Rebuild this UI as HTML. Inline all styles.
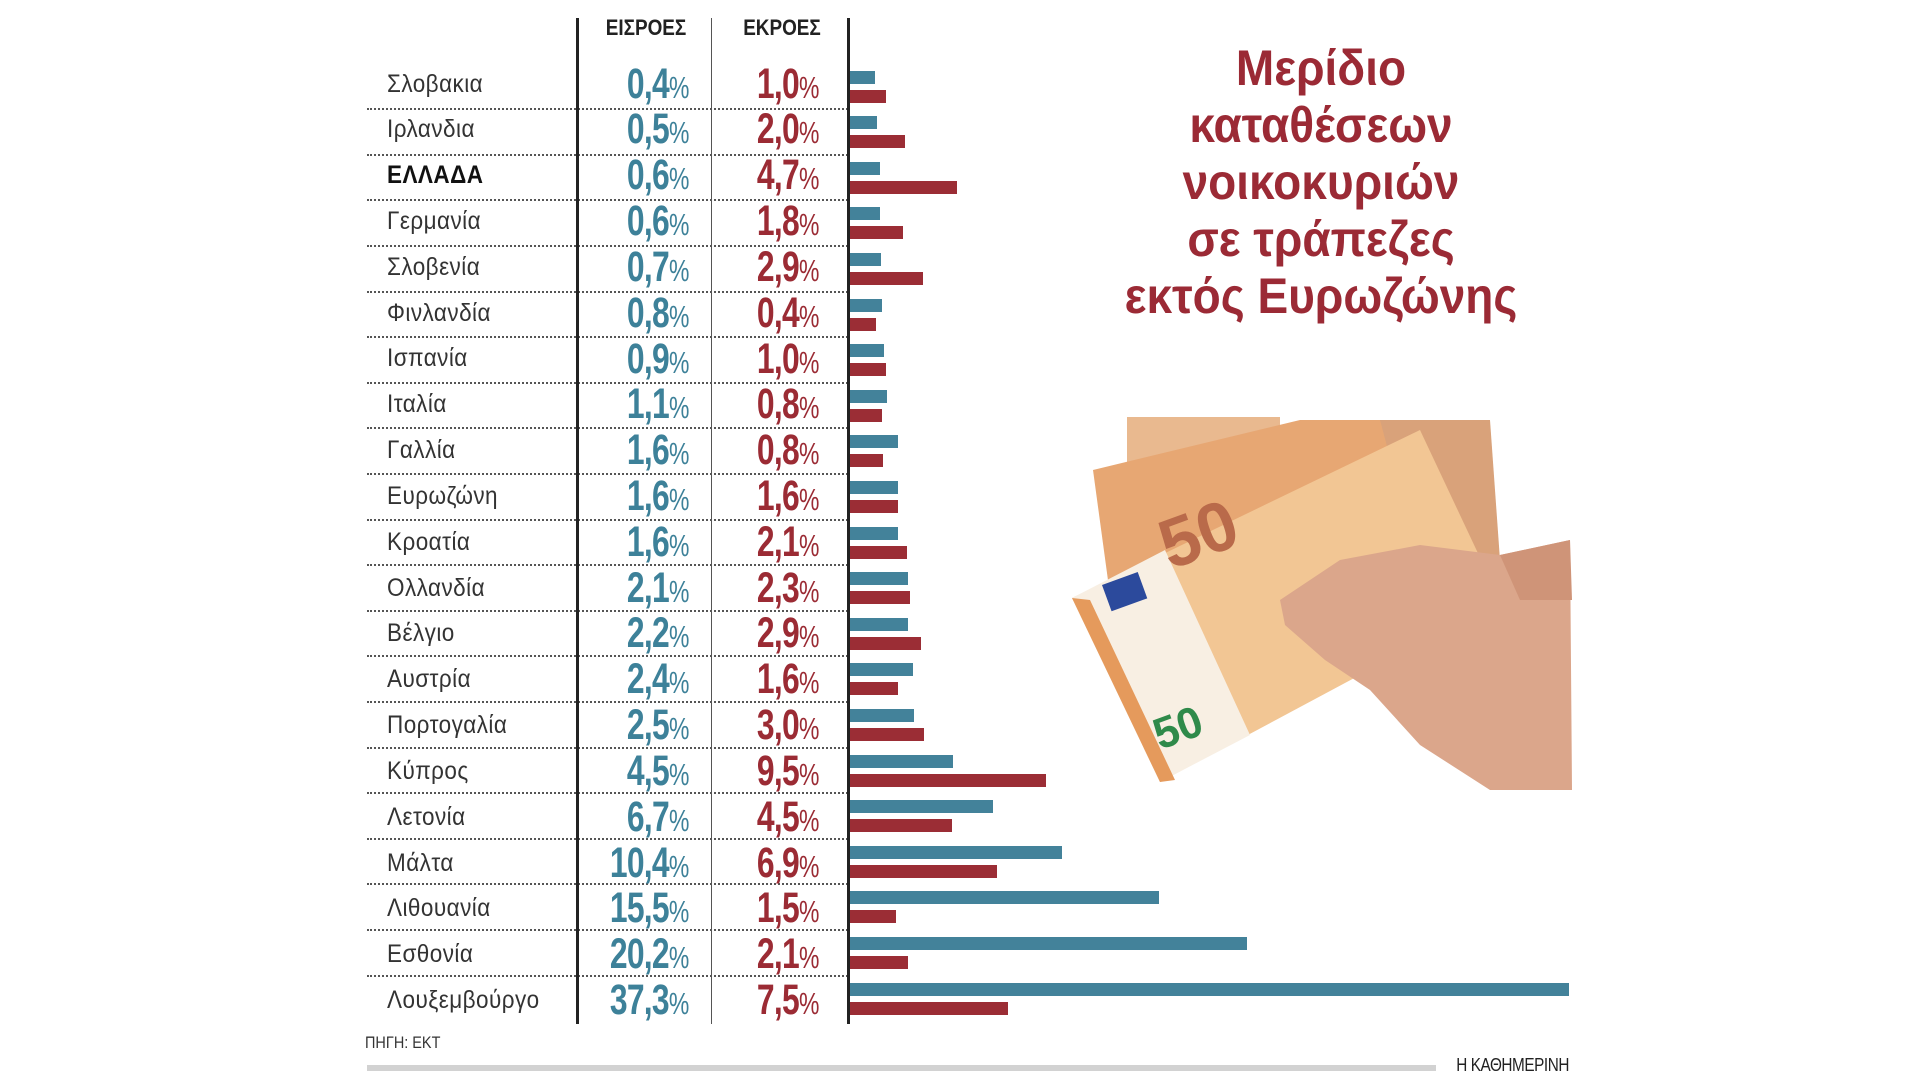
<!DOCTYPE html>
<html><head><meta charset="utf-8">
<style>
body{margin:0;width:1920px;height:1080px;background:#fff;position:relative;overflow:hidden;font-family:"Liberation Sans Narrow","Liberation Sans",sans-serif}
.a{position:absolute}
.vl{position:absolute;top:18px;height:1006px;width:3px;background:#222}
.hd{position:absolute;top:15px;font-weight:bold;font-size:22px;color:#222;width:120px;text-align:center;transform:scaleX(0.86)}
.r{--o:0px;position:absolute;left:367px;width:481px;height:45.6px;border-bottom:2px dotted #555;box-sizing:border-box}
.n{position:absolute;left:20px;top:calc(5px + var(--o));font-size:25px;color:#333;letter-spacing:0.5px;transform:scaleX(0.9);transform-origin:left;white-space:nowrap}
.b{position:absolute;top:calc(-5px + var(--o));font-size:43px;font-weight:bold;letter-spacing:-1px;transform:scaleX(0.74);transform-origin:right;white-space:nowrap}
.b small{font-size:31px;font-weight:normal;letter-spacing:0}
.bl{color:#3d8199;right:159px}
.rd{color:#9b2b34;right:29px}
.bb,.br{position:absolute;left:483px;height:13px}
.bb{top:6px;background:#43829a}
.br{top:25px;background:#9b2d35}
.t{position:absolute;left:1074px;width:494px;text-align:center;color:#9b2a35;font-weight:bold;font-size:50px;line-height:57px;top:40px;transform:scaleX(0.92)}
</style></head><body>
<div class="hd" style="left:586px">ΕΙΣΡΟΕΣ</div>
<div class="hd" style="left:722px">ΕΚΡΟΕΣ</div>

<div class="r" style="top:64.6px"><div class="n">Σλοβακια</div><div class="b bl">0,4<small>%</small></div><div class="b rd">1,0<small>%</small></div><div class="bb" style="width:25px"></div><div class="br" style="width:36px"></div></div>
<div class="r" style="top:110.2px;--o:0.2px"><div class="n">Ιρλανδια</div><div class="b bl">0,5<small>%</small></div><div class="b rd">2,0<small>%</small></div><div class="bb" style="width:27px"></div><div class="br" style="width:55px"></div></div>
<div class="r" style="top:155.8px;--o:0.4px"><div class="n" style="font-weight:bold;color:#111">ΕΛΛΑΔΑ</div><div class="b bl">0,6<small>%</small></div><div class="b rd">4,7<small>%</small></div><div class="bb" style="width:30px"></div><div class="br" style="width:107px"></div></div>
<div class="r" style="top:201.4px;--o:0.7px"><div class="n">Γερμανία</div><div class="b bl">0,6<small>%</small></div><div class="b rd">1,8<small>%</small></div><div class="bb" style="width:30px"></div><div class="br" style="width:53px"></div></div>
<div class="r" style="top:247px;--o:0.9px"><div class="n">Σλοβενία</div><div class="b bl">0,7<small>%</small></div><div class="b rd">2,9<small>%</small></div><div class="bb" style="width:31px"></div><div class="br" style="width:73px"></div></div>
<div class="r" style="top:292.6px;--o:1.1px"><div class="n">Φινλανδία</div><div class="b bl">0,8<small>%</small></div><div class="b rd">0,4<small>%</small></div><div class="bb" style="width:32px"></div><div class="br" style="width:26px"></div></div>
<div class="r" style="top:338.2px;--o:1.3px"><div class="n">Ισπανία</div><div class="b bl">0,9<small>%</small></div><div class="b rd">1,0<small>%</small></div><div class="bb" style="width:34px"></div><div class="br" style="width:36px"></div></div>
<div class="r" style="top:383.8px;--o:1.5px"><div class="n">Ιταλία</div><div class="b bl">1,1<small>%</small></div><div class="b rd">0,8<small>%</small></div><div class="bb" style="width:37px"></div><div class="br" style="width:32px"></div></div>
<div class="r" style="top:429.4px;--o:1.8px"><div class="n">Γαλλία</div><div class="b bl">1,6<small>%</small></div><div class="b rd">0,8<small>%</small></div><div class="bb" style="width:48px"></div><div class="br" style="width:33px"></div></div>
<div class="r" style="top:475px;--o:2px"><div class="n">Ευρωζώνη</div><div class="b bl">1,6<small>%</small></div><div class="b rd">1,6<small>%</small></div><div class="bb" style="width:48px"></div><div class="br" style="width:48px"></div></div>
<div class="r" style="top:520.6px;--o:2.2px"><div class="n">Κροατία</div><div class="b bl">1,6<small>%</small></div><div class="b rd">2,1<small>%</small></div><div class="bb" style="width:48px"></div><div class="br" style="width:57px"></div></div>
<div class="r" style="top:566.2px;--o:2.4px"><div class="n">Ολλανδία</div><div class="b bl">2,1<small>%</small></div><div class="b rd">2,3<small>%</small></div><div class="bb" style="width:58px"></div><div class="br" style="width:60px"></div></div>
<div class="r" style="top:611.8px;--o:2.6px"><div class="n">Βέλγιο</div><div class="b bl">2,2<small>%</small></div><div class="b rd">2,9<small>%</small></div><div class="bb" style="width:58px"></div><div class="br" style="width:71px"></div></div>
<div class="r" style="top:657.4px;--o:2.9px"><div class="n">Αυστρία</div><div class="b bl">2,4<small>%</small></div><div class="b rd">1,6<small>%</small></div><div class="bb" style="width:63px"></div><div class="br" style="width:48px"></div></div>
<div class="r" style="top:703px;--o:3.1px"><div class="n">Πορτογαλία</div><div class="b bl">2,5<small>%</small></div><div class="b rd">3,0<small>%</small></div><div class="bb" style="width:64px"></div><div class="br" style="width:74px"></div></div>
<div class="r" style="top:748.6px;--o:3.3px"><div class="n">Κύπρος</div><div class="b bl">4,5<small>%</small></div><div class="b rd">9,5<small>%</small></div><div class="bb" style="width:103px"></div><div class="br" style="width:196px"></div></div>
<div class="r" style="top:794.2px;--o:3.5px"><div class="n">Λετονία</div><div class="b bl">6,7<small>%</small></div><div class="b rd">4,5<small>%</small></div><div class="bb" style="width:143px"></div><div class="br" style="width:102px"></div></div>
<div class="r" style="top:839.8px;--o:3.8px"><div class="n">Μάλτα</div><div class="b bl">10,4<small>%</small></div><div class="b rd">6,9<small>%</small></div><div class="bb" style="width:212px"></div><div class="br" style="width:147px"></div></div>
<div class="r" style="top:885.4px;--o:4px"><div class="n">Λιθουανία</div><div class="b bl">15,5<small>%</small></div><div class="b rd">1,5<small>%</small></div><div class="bb" style="width:309px"></div><div class="br" style="width:46px"></div></div>
<div class="r" style="top:931px;--o:4.3px"><div class="n">Εσθονία</div><div class="b bl">20,2<small>%</small></div><div class="b rd">2,1<small>%</small></div><div class="bb" style="width:397px"></div><div class="br" style="width:58px"></div></div>
<div class="r" style="top:976.6px;--o:4.6px;border-bottom:none"><div class="n">Λουξεμβούργο</div><div class="b bl">37,3<small>%</small></div><div class="b rd">7,5<small>%</small></div><div class="bb" style="width:719px"></div><div class="br" style="width:158px"></div></div>

<div class="vl" style="left:576px"></div>
<div class="vl" style="left:711px;width:1px;background:#555"></div>
<div class="vl" style="left:847px"></div>

<div class="t">Μερίδιο<br>καταθέσεων<br>νοικοκυριών<br>σε τράπεζες<br>εκτός Ευρωζώνης</div>

<svg class="a" style="left:0;top:0" width="1920" height="1080">
<polygon points="1127,417 1280,417 1280,480 1127,480" fill="#e9b98f"/>
<polygon points="1093,470 1110,595 1470,525 1480,420 1300,420" fill="#e7a773"/>
<polygon points="1380,420 1490,420 1500,560 1420,570" fill="#d9a27a"/>
<polygon points="1072,598 1160,782 1500,600 1420,430" fill="#f2c694"/>
<polygon points="1072,598 1160,782 1250,735 1165,550" fill="#f8efe3"/>
<polygon points="1072,598 1090,600 1175,780 1160,782" fill="#e59a5c"/>
<text x="1170" y="570" font-family="Liberation Sans" font-weight="bold" font-size="70" fill="#b96a4a" transform="rotate(-20 1170 570)">50</text>
<text x="1160" y="750" font-family="Liberation Sans" font-weight="bold" font-size="44" fill="#2f8a4a" transform="rotate(-20 1160 750)">50</text>
<rect x="1102" y="585" width="38" height="28" fill="#2c4a9c" transform="rotate(-20 1102 585)"/>
<polygon points="1280,600 1340,560 1420,545 1500,555 1570,540 1572,790 1490,790 1420,745 1370,690 1325,660 1285,625" fill="#dba68b"/>
<polygon points="1500,555 1570,540 1572,600 1520,600" fill="#cf9478"/>
</svg>

<div class="a" style="left:365px;top:1033px;font-size:17px;color:#333;transform:scaleX(0.85);transform-origin:left">ΠΗΓΗ: ΕΚΤ</div>
<div class="a" style="left:367px;top:1065px;width:1069px;height:6px;background:#d2d2d2"></div>
<div class="a" style="left:1400px;top:1055px;width:169px;text-align:right;font-size:18px;color:#222;letter-spacing:-0.5px;transform:scaleX(0.85);transform-origin:right">Η ΚΑΘΗΜΕΡΙΝΗ</div>
</body></html>
